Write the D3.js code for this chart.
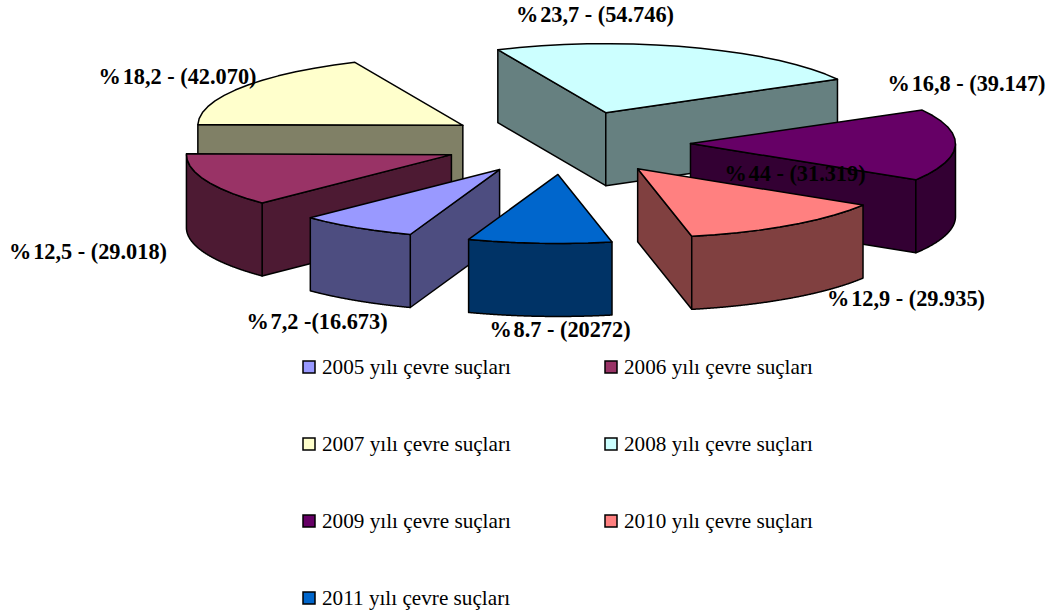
<!DOCTYPE html>
<html>
<head>
<meta charset="utf-8">
<script src="https://cdn.jsdelivr.net/npm/d3@7/dist/d3.min.js"></script>
<style>
html,body{margin:0;padding:0;background:#fff;}
svg{display:block;}
text{font-family:"Liberation Serif","Times New Roman",serif;fill:#000;}
</style>
</head>
<body>
<svg id="chart" width="1048" height="611"></svg>
<script>
// Environmental offences per year, 2005-2011
const years = ["2005","2006","2007","2008","2009","2010","2011"];
const counts = [16673,29018,42070,54746,39147,29935,20272];
const topColors = ["#9999FF","#993366","#FFFFCC","#CCFFFF","#660066","#FF8080","#0066CC"];
const sideColors = ["#4D4D80","#4D1A33","#808066","#668080","#330033","#804040","#003366"];
const sliceLabels = ["%\u200A7,2 -(16.673)","%\u200A12,5 - (29.018)","%\u200A18,2 - (42.070)","%\u200A23,7 - (54.746)","%\u200A16,8 - (39.147)","%\u200A12,9 - (29.935)","%\u200A8.7 - (20272)"];
const labelX = [317,88,177.5,595,966.5,906,560];
const labelY = [329,259,84,22,91,306,337];
const strayLabel = "%\u200A44 - (31.319)";
const legendSuffix = " yılı çevre suçları";

// Painter's order for the exploded slices, furthest first
const drawOrder = [2,3,4,1,0,5,6];

const svg = d3.select("#chart");
const deg = Math.PI/180;
const pieStart = 199.7*deg;
const explodeX = 0.468;
const explodeY = 0.46;
const depth = 73;

// Oblique projection of the unit pie plane to the page
const px = d3.scaleLinear().domain([-1,1]).range([566.5-265,566.5+265]);
const py = d3.scaleLinear().domain([-1,1]).range([142.8-69,142.8+69]);

const arcs = d3.pie().sort(null).startAngle(pieStart).endAngle(pieStart+2*Math.PI)(counts);
const line = d3.line().x(p=>p[0]).y(p=>p[1]);

function ring(pts){ return line(pts)+"Z"; }
function down(p){ return [p[0],p[1]+depth]; }

drawOrder.forEach(i=>{
  const a = arcs[i];
  const mid = (a.startAngle+a.endAngle)/2;
  const ox = explodeX*Math.sin(mid), oy = -explodeY*Math.cos(mid);
  const at = (r,ang)=>[px(ox+r*Math.sin(ang)),py(oy-r*Math.cos(ang))];
  const apex = at(0,0);
  const g = svg.append("g").attr("class","slice-"+years[i]);
  const steps = Math.max(6,Math.round((a.endAngle-a.startAngle)/(5*deg)));
  const angles = d3.range(steps+1).map(k=>a.startAngle+(a.endAngle-a.startAngle)*k/steps);
  const rim = angles.map(t=>at(1,t));

  const style = sel=>sel.attr("stroke","#000").attr("stroke-width",1.5).attr("stroke-linejoin","round");

  // Radial walls that face the viewer
  const wall = ang=>{
    const e = at(1,ang);
    g.append("path").attr("d",ring([apex,e,down(e),down(apex)])).attr("fill",sideColors[i]).call(style);
  };
  if (Math.sin(a.startAngle)<0) wall(a.startAngle);
  if (Math.sin(a.endAngle)>0) wall(a.endAngle);

  // Outer curved wall: the part of the rim on the near half of the pie
  const fine = d3.range(0,241).map(k=>a.startAngle+(a.endAngle-a.startAngle)*k/240);
  const nearAngles = fine.filter(t=>Math.cos(t)<0);
  if (nearAngles.length>1){
    const front = nearAngles.map(t=>at(1,t));
    const back = front.map(down).reverse();
    g.append("path").attr("d",ring(front.concat(back))).attr("fill",sideColors[i]).call(style);
  }

  // Top face
  g.append("path").attr("d",ring([apex].concat(rim))).attr("fill",topColors[i]).call(style);
});

// Value labels
const labelFont = 22.3;
svg.selectAll("text.value").data(sliceLabels).join("text")
  .attr("class","value")
  .attr("x",(d,i)=>labelX[i]).attr("y",(d,i)=>labelY[i])
  .attr("text-anchor","middle")
  .attr("font-size",labelFont).attr("font-weight","bold")
  .text(d=>d);
svg.append("text").attr("x",795).attr("y",181).attr("text-anchor","middle")
  .attr("font-size",labelFont).attr("font-weight","bold").text(strayLabel);

// Legend
const legCol = d3.scaleOrdinal().domain([0,1]).range([303,605]);
const legRow = d3.scalePoint().domain([0,1,2,3]).range([367,598]);
const leg = svg.selectAll("g.legend").data(years).join("g").attr("class","legend")
  .attr("transform",(d,i)=>`translate(${legCol(i%2)},${legRow(Math.floor(i/2))})`);
leg.append("rect").attr("x",0).attr("y",-6).attr("width",12).attr("height",12)
  .attr("fill",(d,i)=>topColors[i]).attr("stroke","#000").attr("stroke-width",1.5);
leg.append("text").attr("x",19).attr("y",6.5).attr("font-size",21.2).text(d=>d+legendSuffix);
</script>
</body>
</html>
